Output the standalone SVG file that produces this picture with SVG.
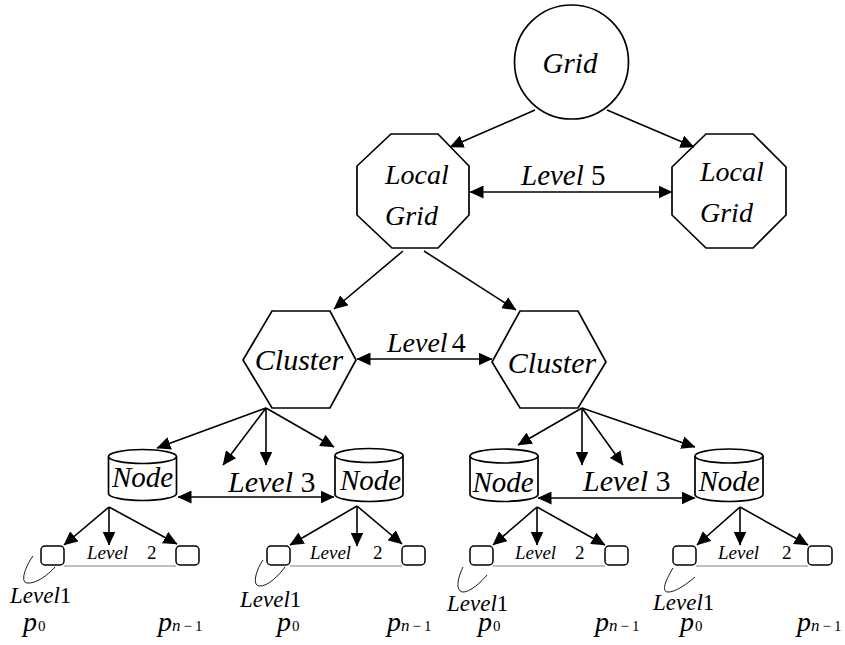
<svg xmlns="http://www.w3.org/2000/svg" width="845" height="645" viewBox="0 0 845 645">
  <style>
    .shape { fill: #fff; stroke: #000; stroke-width: 1.7; }
    .box { fill: #fff; stroke: #000; stroke-width: 1.5; }
    .arrow { fill: none; stroke: #000; stroke-width: 1.6; marker-end: url(#head); }
    .double { marker-start: url(#head); }
    .base { stroke: #808080; stroke-width: 1; fill: none; }
    .loop { fill: none; stroke: #000; stroke-width: 0.9; }
    text { font-family: "Liberation Serif", "Times New Roman", serif; fill: #000; }
    .it { font-style: italic; }
    .lbl { font-size: 29px; }
    .small { font-size: 19px; }
    .l1 { font-size: 23px; }
    .pv { font-size: 28px; font-style: italic; }
    .sub { font-size: 15px; }
    .subn { font-size: 17px; font-style: italic; }
  </style>
  <defs>
    <marker id="head" markerUnits="userSpaceOnUse" markerWidth="14" markerHeight="13" viewBox="0 0 14 13" refX="13.5" refY="6.5" orient="auto-start-reverse">
      <path d="M0,0 L14,6.5 L0,13 z" fill="#000"/>
    </marker>
  </defs>

  <!-- hierarchy nodes -->
  <g id="grid">
    <circle class="shape" cx="571.5" cy="62" r="57"/>
    <text class="it" x="570" y="73" font-size="29" text-anchor="middle">Grid</text>
  </g>

  <g id="local-grid-1">
    <polygon class="shape" points="391,134 438,134 469,166 469,215 438,248 392,248 357,215 357,166"/>
    <text class="it" x="385" y="184" font-size="28">Local</text>
    <text class="it" x="385" y="225" font-size="28">Grid</text>
  </g>

  <g id="local-grid-2">
    <polygon class="shape" points="706,134 753,134 786,167 786,215 753,248 706,248 672,215 672,167"/>
    <text class="it" x="700" y="181" font-size="28">Local</text>
    <text class="it" x="700" y="222" font-size="28">Grid</text>
  </g>

  <g id="cluster-1">
    <polygon class="shape" points="272,311 330,311 356,360 330,408 272,408 243,360"/>
    <text class="it" x="299" y="370" font-size="30" text-anchor="middle">Cluster</text>
  </g>

  <g id="cluster-2">
    <polygon class="shape" points="520,311 578,311 606,362 578,408 520,408 492,362"/>
    <text class="it" x="552" y="373" font-size="30" text-anchor="middle">Cluster</text>
  </g>

  <g id="node-1">
    <path class="shape" d="M108.5,456.5 L108.5,493.5 A34,7 0 0 0 176.5,493.5 L176.5,456.5"/>
    <ellipse class="shape" cx="142.5" cy="456.5" rx="34" ry="7"/>
    <text class="it" x="142.5" y="487" font-size="29" text-anchor="middle">Node</text>
  </g>

  <g id="node-2">
    <path class="shape" d="M335,455.5 L335,494.5 A34,7 0 0 0 403,494.5 L403,455.5"/>
    <ellipse class="shape" cx="369" cy="455.5" rx="34" ry="7"/>
    <text class="it" x="370.5" y="490" font-size="29" text-anchor="middle">Node</text>
  </g>

  <g id="node-3">
    <path class="shape" d="M470,456 L470,494.5 A34,7 0 0 0 538,494.5 L538,456"/>
    <ellipse class="shape" cx="504" cy="456" rx="34" ry="7"/>
    <text class="it" x="503" y="492" font-size="29" text-anchor="middle">Node</text>
  </g>

  <g id="node-4">
    <path class="shape" d="M695,456 L695,494.5 A34,7 0 0 0 763,494.5 L763,456"/>
    <ellipse class="shape" cx="729" cy="456" rx="34" ry="7"/>
    <text class="it" x="729" y="491" font-size="29" text-anchor="middle">Node</text>
  </g>

  <!-- processors under each node -->
  <g id="procs-1">
    <rect class="box" x="41" y="546" width="23" height="19" rx="4"/>
    <rect class="box" x="176" y="546" width="23" height="19" rx="4"/>
    <text x="23" y="631"><tspan class="pv">p</tspan><tspan class="sub" dx="1">0</tspan></text>
    <text x="158" y="631"><tspan class="pv">p</tspan><tspan class="subn">n</tspan><tspan class="sub" dx="3">−</tspan><tspan class="sub" dx="3">1</tspan></text>
  </g>

  <g id="procs-2">
    <rect class="box" x="267" y="546" width="23" height="19" rx="4"/>
    <rect class="box" x="402" y="546" width="23" height="19" rx="4"/>
    <text x="277" y="631"><tspan class="pv">p</tspan><tspan class="sub" dx="1">0</tspan></text>
    <text x="387" y="631"><tspan class="pv">p</tspan><tspan class="subn">n</tspan><tspan class="sub" dx="3">−</tspan><tspan class="sub" dx="3">1</tspan></text>
  </g>

  <g id="procs-3">
    <rect class="box" x="470" y="546" width="23" height="19" rx="4"/>
    <rect class="box" x="605" y="546" width="23" height="19" rx="4"/>
    <text x="478" y="631"><tspan class="pv">p</tspan><tspan class="sub" dx="1">0</tspan></text>
    <text x="595" y="631"><tspan class="pv">p</tspan><tspan class="subn">n</tspan><tspan class="sub" dx="3">−</tspan><tspan class="sub" dx="3">1</tspan></text>
  </g>

  <g id="procs-4">
    <rect class="box" x="673" y="546" width="23" height="19" rx="4"/>
    <rect class="box" x="808" y="546" width="24" height="19" rx="4"/>
    <text x="680" y="631"><tspan class="pv">p</tspan><tspan class="sub" dx="1">0</tspan></text>
    <text x="797" y="631"><tspan class="pv">p</tspan><tspan class="subn">n</tspan><tspan class="sub" dx="3">−</tspan><tspan class="sub" dx="3">1</tspan></text>
  </g>

  <!-- connectors -->
  <g id="connectors">
    <!-- grid to local grids -->
    <line class="arrow" x1="535" y1="110" x2="450" y2="147"/>
    <line class="arrow" x1="607" y1="110" x2="694" y2="147"/>
    <line class="arrow double" x1="470" y1="192" x2="672" y2="192"/>
    <!-- local grid to clusters -->
    <line class="arrow" x1="403" y1="251" x2="334" y2="309"/>
    <line class="arrow" x1="424" y1="251" x2="516" y2="310"/>
    <line class="arrow double" x1="357" y1="359" x2="492" y2="359"/>
    <!-- clusters to nodes -->
    <line class="arrow" x1="266" y1="408" x2="157" y2="448"/>
    <line class="arrow" x1="266" y1="408" x2="223" y2="465"/>
    <line class="arrow" x1="266" y1="408" x2="266" y2="465"/>
    <line class="arrow" x1="266" y1="408" x2="334" y2="447"/>
    <line class="arrow" x1="582" y1="408" x2="518" y2="445"/>
    <line class="arrow" x1="582" y1="408" x2="582" y2="465"/>
    <line class="arrow" x1="582" y1="408" x2="623" y2="465"/>
    <line class="arrow" x1="582" y1="408" x2="695" y2="447"/>
    <line class="arrow double" x1="178" y1="497" x2="334" y2="497"/>
    <line class="arrow double" x1="538" y1="498" x2="695" y2="498"/>
    <!-- nodes to processors -->
    <line class="arrow" x1="109" y1="507" x2="64" y2="545"/>
    <line class="arrow" x1="109" y1="507" x2="109" y2="545"/>
    <line class="arrow" x1="109" y1="507" x2="177" y2="544"/>
    <line class="arrow" x1="357" y1="506" x2="290" y2="545"/>
    <line class="arrow" x1="357" y1="506" x2="357" y2="546"/>
    <line class="arrow" x1="357" y1="506" x2="402" y2="544"/>
    <line class="arrow" x1="537" y1="507" x2="493" y2="545"/>
    <line class="arrow" x1="537" y1="507" x2="537" y2="545"/>
    <line class="arrow" x1="537" y1="507" x2="605" y2="545"/>
    <line class="arrow" x1="740" y1="507" x2="697" y2="545"/>
    <line class="arrow" x1="740" y1="507" x2="740" y2="545"/>
    <line class="arrow" x1="740" y1="507" x2="808" y2="545"/>
    <!-- processor baselines -->
    <line class="base" x1="64" y1="566" x2="176" y2="566"/>
    <line class="base" x1="290" y1="566" x2="402" y2="566"/>
    <line class="base" x1="493" y1="566" x2="605" y2="566"/>
    <line class="base" x1="696" y1="566" x2="808" y2="566"/>
    <!-- level 1 loops -->
    <path class="loop" d="M33,556 C25,567 20,582 27,583 C36,584 48,575 55,567"/>
    <path class="loop" d="M263,560 C256,570 252,585 259,586 C268,587 280,574 285,567"/>
    <path class="loop" d="M463,567 C458,577 455,590 462,592 C470,593 482,581 487,575"/>
    <path class="loop" d="M673,568 C667,578 661,590 667,592 C675,593 688,583 695,577"/>
  </g>

  <!-- level labels -->
  <g id="level-labels">
    <text class="lbl" x="521" y="185"><tspan class="it">Level</tspan> 5</text>
    <text x="387" y="352" font-size="28"><tspan class="it">Level</tspan><tspan dx="4">4</tspan></text>
    <text x="228" y="492" font-size="30"><tspan class="it">Level</tspan> 3</text>
    <text x="583" y="491" font-size="30"><tspan class="it">Level</tspan> 3</text>
    <text class="small" x="87" y="559"><tspan class="it">Level</tspan></text>
    <text class="small" x="147" y="559">2</text>
    <text class="small" x="310" y="559"><tspan class="it">Level</tspan></text>
    <text class="small" x="373" y="559">2</text>
    <text class="small" x="515" y="559"><tspan class="it">Level</tspan></text>
    <text class="small" x="575" y="559">2</text>
    <text class="small" x="718" y="559"><tspan class="it">Level</tspan></text>
    <text class="small" x="782" y="559">2</text>
    <text class="l1" x="10" y="603"><tspan class="it">Level</tspan>1</text>
    <text class="l1" x="240" y="607"><tspan class="it">Level</tspan>1</text>
    <text class="l1" x="447" y="611"><tspan class="it">Level</tspan>1</text>
    <text class="l1" x="653" y="610"><tspan class="it">Level</tspan>1</text>
  </g>
</svg>
